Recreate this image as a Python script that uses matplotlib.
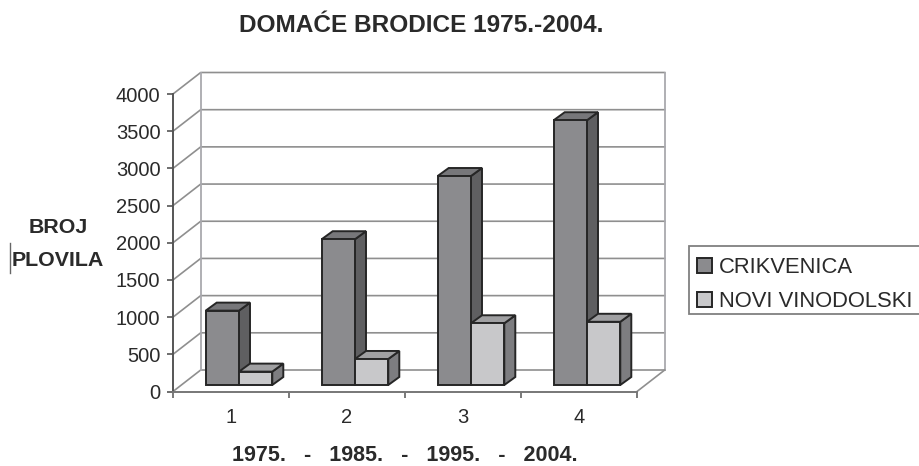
import matplotlib
matplotlib.use("Agg")
import matplotlib.pyplot as plt
from matplotlib.patches import Polygon, Rectangle
from matplotlib.lines import Line2D

plt.rcParams["font.family"] = ["Liberation Sans", "DejaVu Sans"]

categories = ["1", "2", "3", "4"]
crikvenica = [1000, 1960, 2810, 3560]
novi_vinodolski = [180, 350, 830, 850]
series_names = ["CRIKVENICA", "NOVI VINODOLSKI"]
y_ticks = [0, 500, 1000, 1500, 2000, 2500, 3000, 3500, 4000]
years_text = "1975.   -   1985.   -   1995.   -   2004."

W, H = 920, 466
# front plane of the fake 3d box, in pixels
left, right, bottom, top = 173, 637, 391.5, 94

fig = plt.figure(figsize=(W / 100, H / 100), dpi=100)
ax = fig.add_axes([left / W, 1 - bottom / H, (right - left) / W, (bottom - top) / H])
ax.set_xlim(0.5, 4.5)
ax.set_ylim(0, 4000)
ax.patch.set_alpha(0)

# pixels to data units
px_x = 4 / (right - left)
px_y = 4000 / (bottom - top)

wall_dx, wall_dy = 27.7 * px_x, 21.5 * px_y
gap_dx, gap_dy = 8 * px_x, 6.5 * px_y
bar_dx, bar_dy = 11 * px_x, 8 * px_y
bar_w = 33.3 * px_x

GRID = "#8f8f8f"
WALL = "#a9a9ae"
EDGE = "#262626"
DARK_FRONT = "#8b8b8e"
DARK_SIDE = "#5f5f61"
LIGHT_FRONT = "#c8c8ca"
LIGHT_SIDE = "#7d7d80"
LIGHT_TOP = "#a0a0a2"
TEXT = "#2a2a2a"

# walls and gridlines
for v in y_ticks:
    ax.plot([0.5, 0.5 + wall_dx, 4.5 + wall_dx], [v, v + wall_dy, v + wall_dy],
            color=GRID, lw=1.2, clip_on=False, zorder=1)
ax.plot([0.5 + wall_dx, 0.5 + wall_dx], [wall_dy, 4000 + wall_dy], color=WALL, lw=1.3, clip_on=False, zorder=1)
ax.plot([4.5 + wall_dx, 4.5 + wall_dx], [wall_dy, 4000 + wall_dy], color=WALL, lw=1.3, clip_on=False, zorder=1)
ax.plot([4.5, 4.5 + wall_dx], [0, wall_dy], color=GRID, lw=1.2, clip_on=False, zorder=1)


def draw_bar(x0, val, front, side, top_col, z):
    # front face goes through bar(), depth faces are added around it
    x = x0 + gap_dx
    b = gap_dy
    ax.bar(x, val, width=bar_w, bottom=b, align="edge", color=front, edgecolor=EDGE,
           linewidth=1.4, clip_on=False, zorder=z + 1)
    t = b + val
    ax.add_patch(Polygon([(x + bar_w, b), (x + bar_w + bar_dx, b + bar_dy),
                          (x + bar_w + bar_dx, t + bar_dy), (x + bar_w, t)],
                         facecolor=side, edgecolor=EDGE, lw=1.4, clip_on=False, zorder=z))
    ax.add_patch(Polygon([(x, t), (x + bar_dx, t + bar_dy),
                          (x + bar_w + bar_dx, t + bar_dy), (x + bar_w, t)],
                         facecolor=top_col, edgecolor=EDGE, lw=1.4, clip_on=False, zorder=z))


for i in range(len(categories)):
    c = i + 1
    draw_bar(c - bar_w, crikvenica[i], DARK_FRONT, DARK_SIDE, "#77777a", 3 + i * 3)
    draw_bar(c, novi_vinodolski[i], LIGHT_FRONT, LIGHT_SIDE, LIGHT_TOP, 4 + i * 3)

# axes
for s in ["top", "right"]:
    ax.spines[s].set_visible(False)
ax.spines["left"].set_color("#555555")
ax.spines["bottom"].set_color("#777777")
ax.spines["left"].set_linewidth(1.4)
ax.spines["bottom"].set_linewidth(1.4)
ax.set_yticks(y_ticks)
ax.set_xticks([0.5, 1.5, 2.5, 3.5, 4.5])
ax.set_xticklabels([])
ax.set_xticks([1, 2, 3, 4], labels=categories, minor=True)
ax.tick_params(axis="y", labelsize=14.5, labelcolor=TEXT, color="#555555", length=4, width=1.2, pad=5)
ax.tick_params(axis="x", which="major", color="#555555", length=4, width=1.1)
ax.tick_params(axis="x", which="minor", length=0, labelsize=14.5, labelcolor=TEXT, pad=12)

# text
fig.text(421 / W, 1 - 32.3 / H, "DOMAĆE BRODICE 1975.-2004.", ha="center", va="baseline",
         fontsize=17.6, fontweight="bold", color=TEXT)
fig.text(58 / W, 1 - 233 / H, "BROJ", ha="center", va="baseline", fontsize=15.4, fontweight="bold", color=TEXT)
fig.text(58 / W, 1 - 266 / H, "PLOVILA", ha="center", va="baseline", fontsize=15.4, fontweight="bold", color=TEXT)
fig.text(404.5 / W, 1 - 461 / H, years_text, ha="center", va="baseline", fontsize=15.5, fontweight="bold", color=TEXT)
fig.add_artist(Line2D([10.5 / W, 10.5 / W], [1 - 243 / H, 1 - 273 / H], color="#666666", lw=1))

# legend box runs off the right edge in the scan, so the frame is drawn apart from the entries
fig.add_artist(Rectangle((689 / W, 1 - 314 / H), 240 / W, 68 / H, transform=fig.transFigure,
                         facecolor="white", edgecolor="#808080", lw=1.3))
handles = [plt.Rectangle((0, 0), 1, 1, facecolor=DARK_FRONT, edgecolor=EDGE, lw=1.4),
           plt.Rectangle((0, 0), 1, 1, facecolor=LIGHT_FRONT, edgecolor=EDGE, lw=1.4)]
leg = fig.legend(handles, series_names, loc="upper left", bbox_to_anchor=(689 / W, 1 - 249 / H),
                 borderaxespad=0, fontsize=15.8, labelcolor=TEXT, frameon=False,
                 handlelength=0.68, handleheight=0.68,
                 handletextpad=0.3, labelspacing=0.6, borderpad=0.37)

fig.savefig("out.png", dpi=100)
